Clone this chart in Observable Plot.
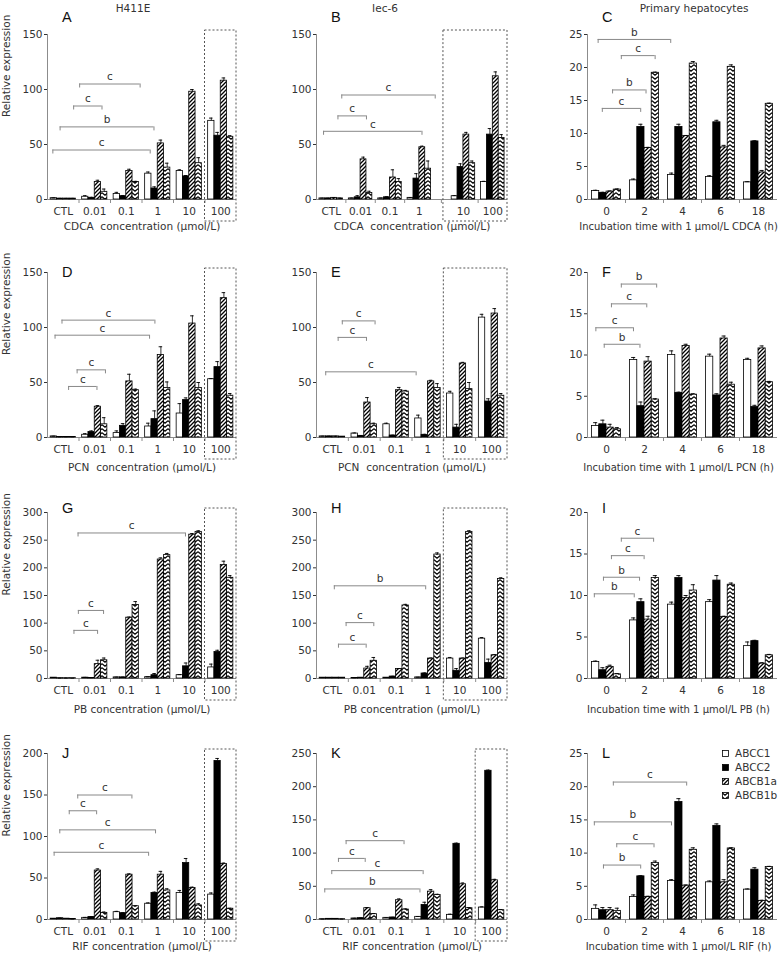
<!DOCTYPE html>
<html>
<head>
<meta charset="utf-8">
<script src="https://cdn.jsdelivr.net/npm/d3@7"></script>
<script src="https://cdn.jsdelivr.net/npm/@observablehq/plot@0.6"></script>
<style>
  body { margin: 0; background: #fff; }
  #fig { position: relative; width: 784px; height: 956px; font-family: "DejaVu Sans", sans-serif; color: #333; }
  .panel { position: absolute; }
  .title { position: absolute; font-size: 10.5px; transform: translate(-50%, -50%); white-space: nowrap; }
  .letter { position: absolute; font-family: "Liberation Sans", Arial, sans-serif; font-size: 14.5px; color: #111; line-height: 16px; }
  #legend { position: absolute; left: 722px; top: 746px; font-size: 10.5px; }
  #legend div { height: 14px; display: flex; align-items: center; }
  #legend svg { margin-right: 6px; }
</style>
</head>
<body>
<svg width="0" height="0" style="position:absolute">
  <defs>
    <pattern id="hatchA" patternUnits="userSpaceOnUse" width="4" height="4">
      <rect width="4" height="4" fill="#fff"/>
      <path d="M-1,1 l2,-2 M0,4 l4,-4 M3,5 l2,-2" stroke="#000" stroke-width="1.3"/>
    </pattern>
    <pattern id="hatchB" patternUnits="userSpaceOnUse" width="6" height="4">
      <rect width="6" height="4" fill="#fff"/>
      <path d="M0,0.6 L3,3.2 L6,0.6" fill="none" stroke="#000" stroke-width="1.2"/>
    </pattern>
  </defs>
</svg>
<div id="fig"></div>
<script>
// ---------------- data ----------------
const series = ["ABCC1", "ABCC2", "ABCB1a", "ABCB1b"];
const concentrations = ["CTL", "0.01", "0.1", "1", "10", "100"];
const hours = ["0", "2", "4", "6", "18"];

// each row: one group, values for [ABCC1, ABCC2, ABCB1a, ABCB1b]
const valuesA = [[1.2,0.8,0.8,0.8],[2.5,1.5,16,7],[5,3,26,16],[23.5,10,51,29],[26,21,98,33],[71.5,58,108,57]];
const errorsA = [[0.3,0.2,0.2,0.2],[1,0.5,1.5,2.5],[1.5,0.5,1.5,0.5],[1.5,1.5,3,4],[1,0.8,2,5],[2.5,3,2.5,1]];
const bracketsA = [{from:1.02,to:2.94,y:105,sig:"c"},{from:0.83,to:1.73,y:85,sig:"c"},{from:0.40,to:3.38,y:66,sig:"b"},{from:0.17,to:3.26,y:45,sig:"c"}];

const valuesB = [[1,1,1.5,1],[1,2,36.5,6],[1,2,20,16],[1.5,19,47.5,28],[3,29.5,59,33],[16,59,112,56]];
const errorsB = [[0.2,0.2,0.3,0.2],[0.3,1.5,2,1.5],[0.3,0.5,7,3],[0.3,4.5,1,7],[0.5,3,2,2],[0.5,5.5,4,3]];
const bracketsB = [{from:0.86,to:4.04,y:95,sig:"c"},{from:0.73,to:1.70,y:76,sig:"c"},{from:0.24,to:3.59,y:62,sig:"c"}];

const valuesC = [[1.3,1.0,1.2,1.5],[2.9,11,7.8,19.2],[3.7,11,9.6,20.6],[3.4,11.7,7.9,20.1],[2.6,8.8,4.1,14.5]];
const errorsC = [[0.1,0.1,0.1,0.1],[0.2,0.4,0.1,0.1],[0.3,0.4,0.1,0.3],[0.2,0.3,0.3,0.3],[0.1,0.1,0.3,0.1]];
const bracketsC = [{from:0.28,to:2.19,y:24.25,sig:"b"},{from:0.89,to:1.78,y:21.8,sig:"c"},{from:0.66,to:1.54,y:16.6,sig:"b"},{from:0.39,to:1.40,y:13.8,sig:"c"}];

const valuesD = [[1,0.5,0.5,0.5],[2.5,5,28,12],[4,10.6,51,43],[10,16.7,75,45],[21.8,34,103.6,45],[53,64,126.7,38]];
const errorsD = [[0.2,0.1,0.1,0.1],[1,1,1,6],[2,2,6.5,1],[3,7.5,7.5,5.5],[9,2,7,5],[0.5,5,5,2]];
const bracketsD = [{from:0.46,to:3.41,y:106.7,sig:"c"},{from:0.24,to:3.24,y:93,sig:"c"},{from:0.94,to:1.84,y:61.5,sig:"c"},{from:0.67,to:1.57,y:46.4,sig:"c"}];

const valuesE = [[1,1,1,0.8],[3.6,1.5,31.8,12],[12,1.8,43,41.8],[17.3,2.4,51,45],[40,9,67.3,44],[109,32.7,112.7,38]];
const errorsE = [[0.2,0.2,0.2,0.1],[0.5,0.3,4.5,1],[1,0.3,2.5,1],[3,0.5,1,4],[2,3,1,6],[3,2.5,4.5,2]];
const bracketsE = [{from:0.81,to:1.84,y:106,sig:"c"},{from:0.68,to:1.57,y:91,sig:"c"},{from:0.29,to:3.13,y:59.7,sig:"c"}];

const valuesF = [[1.4,1.6,1.2,1.0],[9.4,3.8,9.2,4.6],[10,5.4,11.1,5.2],[9.8,5.1,12,6.4],[9.4,3.7,10.8,6.7]];
const errorsF = [[0.4,0.5,0.4,0.2],[0.3,0.5,0.6,0.1],[0.5,0.1,0.2,0.1],[0.3,0.2,0.3,0.3],[0.2,0.2,0.3,0.1]];
const bracketsF = [{from:0.89,to:1.82,y:18.6,sig:"b"},{from:0.63,to:1.56,y:16.2,sig:"c"},{from:0.22,to:1.21,y:13.3,sig:"c"},{from:0.44,to:1.38,y:11.3,sig:"b"}];

const valuesG = [[1.5,0.5,0.5,0.5],[1.5,1,26,33],[2,2,110,133],[2.5,6,215,223],[6,22,260,265],[20,48,205,182]];
const errorsG = [[0.3,0.2,0.2,0.2],[0.5,0.3,7,4],[0.5,0.5,1,6],[0.5,3,3,3],[1,6,2,2],[6,3,7,4]];
const bracketsG = [{from:0.97,to:4.38,y:263,sig:"c"},{from:0.98,to:1.78,y:123,sig:"c"},{from:0.84,to:1.59,y:87,sig:"c"}];

const valuesH = [[1.5,1.5,1.5,1.5],[1,1.5,18,32],[1.5,3.5,17,132],[2,9,36,224],[36,14,36,265],[72,28,42,180]];
const errorsH = [[0.2,0.2,0.2,0.2],[0.3,0.3,4,6],[0.3,0.5,1,2],[0.3,1,1,3],[2,4,1,2],[2,7,1,2]];
const bracketsH = [{from:0.56,to:3.43,y:167.5,sig:"b"},{from:0.93,to:1.80,y:101,sig:"c"},{from:0.69,to:1.56,y:62,sig:"c"}];

const valuesI = [[2.0,1.0,1.4,0.5],[7.0,9.2,7.1,12.1],[8.9,12.1,9.7,10.6],[9.2,11.8,7.4,11.3],[3.9,4.5,1.8,2.8]];
const errorsI = [[0.1,0.3,0.2,0.1],[0.3,0.4,0.4,0.3],[0.3,0.3,0.3,0.7],[0.3,0.6,0.1,0.2],[0.5,0.1,0.1,0.1]];
const bracketsI = [{from:0.89,to:1.74,y:16.9,sig:"c"},{from:0.63,to:1.49,y:14.8,sig:"c"},{from:0.42,to:1.37,y:12.2,sig:"b"},{from:0.18,to:1.23,y:10.2,sig:"b"}];

const valuesJ = [[1,1.5,1,0.5],[2,3,59,8],[8.8,7.6,54,16],[19,32,54,35],[32,68,38,17],[30,191,67,13]];
const errorsJ = [[0.2,0.2,0.2,0.1],[0.5,0.5,2,1],[1,0.5,1,0.5],[1,1,4,2],[3,5.5,1,2],[2,3,1,0.5]];
const bracketsJ = [{from:0.96,to:2.68,y:150,sig:"c"},{from:0.69,to:1.56,y:131,sig:"c"},{from:0.39,to:3.43,y:108,sig:"c"},{from:0.21,to:3.21,y:81,sig:"c"}];

const valuesK = [[0.5,1,1,0.5],[1.5,2,17,8],[2.5,3,29,15],[4,22,42,37],[7,114,53,17],[18,224,59,14]];
const errorsK = [[0.2,0.2,0.2,0.1],[0.3,0.3,1,1],[0.3,0.3,2,1],[0.5,4,3,1],[1,1,2,1],[1,1,1.5,1]];
const bracketsK = [{from:0.93,to:2.75,y:118.7,sig:"c"},{from:0.69,to:1.53,y:92,sig:"c"},{from:0.48,to:3.35,y:73.6,sig:"c"},{from:0.26,to:3.25,y:46,sig:"b"}];

const valuesL = [[1.6,1.4,1.4,1.3],[3.4,6.5,3.4,8.5],[5.8,17.7,5.1,10.5],[5.6,14.1,5.6,10.7],[4.5,7.5,2.8,7.9]];
const errorsL = [[0.6,0.4,0.4,0.4],[0.3,0.1,0.1,0.3],[0.2,0.5,0.1,0.3],[0.2,0.3,0.4,0.1],[0.1,0.3,0.1,0.1]];
const bracketsL = [{from:0.68,to:2.61,y:20.7,sig:"c"},{from:0.18,to:2.21,y:14.7,sig:"b"},{from:0.77,to:1.75,y:11.4,sig:"c"},{from:0.42,to:1.40,y:8.2,sig:"b"}];

const columnTitles = ["H411E", "Iec-6", "Primary hepatocytes"];

// ---------------- layout ----------------
const cols = [
  {left: 0, width: 260, ml: 47, mr: 24, titleX: 133, letterX: 62, labelDx: 0, labelSize: 10.5},
  {left: 260, width: 260, ml: 56, mr: 13, titleX: 385, letterX: 331, labelDx: 0, labelSize: 10.5},
  {left: 520, width: 264, ml: 67, mr: 7, titleX: 694, letterX: 602, labelDx: -4, labelSize: 10}
];
const rows = [
  {top: 0, height: 240, mt: 34, mb: 41, titleDy: 30, letterY: 17},
  {top: 240, height: 235, mt: 32, mb: 38, titleDy: 33, letterY: 272},
  {top: 475, height: 240, mt: 37, mb: 37, titleDy: 34, letterY: 508},
  {top: 715, height: 241, mt: 38, mb: 37, titleDy: 30, letterY: 753}
];
const conc = u => `${u}\u00a0 concentration (μmol/L)`;
const incub = u => `Incubation time with 1 μmol/L ${u} (h)`;
const panels = [
  {letter:"A", col:0,row:0, values:valuesA, errors:errorsA, brackets:bracketsA, groups:concentrations, yMax:150, yStep:50, box:{from:5,to:5}, xLabel:conc("CDCA")},
  {letter:"B", col:1,row:0, values:valuesB, errors:errorsB, brackets:bracketsB, groups:concentrations, yMax:150, yStep:50, box:{from:4,to:5,padLeft:0.18}, gapAt:4, gap:0.5, xLabel:conc("CDCA")},
  {letter:"C", col:2,row:0, values:valuesC, errors:errorsC, brackets:bracketsC, groups:hours, yMax:25, yStep:5, xLabel:incub("CDCA")},
  {letter:"D", col:0,row:1, values:valuesD, errors:errorsD, brackets:bracketsD, groups:concentrations, yMax:150, yStep:50, box:{from:5,to:5}, xLabel:conc("PCN")},
  {letter:"E", col:1,row:1, values:valuesE, errors:errorsE, brackets:bracketsE, groups:concentrations, yMax:150, yStep:50, box:{from:4,to:5}, xLabel:conc("PCN")},
  {letter:"F", col:2,row:1, values:valuesF, errors:errorsF, brackets:bracketsF, groups:hours, yMax:20, yStep:5, xLabel:incub("PCN")},
  {letter:"G", col:0,row:2, values:valuesG, errors:errorsG, brackets:bracketsG, groups:concentrations, yMax:300, yStep:50, box:{from:5,to:5}, xLabel:"PB concentration (μmol/L)"},
  {letter:"H", col:1,row:2, values:valuesH, errors:errorsH, brackets:bracketsH, groups:concentrations, yMax:300, yStep:50, box:{from:4,to:5}, xLabel:"PB concentration (μmol/L)"},
  {letter:"I", col:2,row:2, values:valuesI, errors:errorsI, brackets:bracketsI, groups:hours, yMax:20, yStep:5, xLabel:incub("PB")},
  {letter:"J", col:0,row:3, values:valuesJ, errors:errorsJ, brackets:bracketsJ, groups:concentrations, yMax:200, yStep:50, box:{from:5,to:5}, xLabel:"RIF concentration (μmol/L)"},
  {letter:"K", col:1,row:3, values:valuesK, errors:errorsK, brackets:bracketsK, groups:concentrations, yMax:250, yStep:50, box:{from:5,to:5}, xLabel:"RIF concentration (μmol/L)"},
  {letter:"L", col:2,row:3, values:valuesL, errors:errorsL, brackets:bracketsL, groups:hours, yMax:25, yStep:5, xLabel:incub("RIF")}
];

const fills = ["#ffffff", "#000000", "url(#hatchA)", "url(#hatchB)"];
const axisGray = "#8c8c8c";

function drawPanel(p) {
  const c = cols[p.col], r = rows[p.row];
  const n = p.groups.length;
  const gapAt = p.gapAt ?? n, gap = p.gap ?? 0;
  const pos = i => i + (i >= gapAt ? gap : 0);
  const xMax = pos(n - 1) + 1;
  const unit = p.yMax / (r.height - r.mt - r.mb); // data units per pixel
  const bs = p.col === 2 ? 0.12 : 0.1, bw = p.col === 2 ? 0.19 : 0.2;
  const bars = p.groups.flatMap((g, gi) => series.map((s, si) => {
    const x1 = pos(gi) + bs + si * bw;
    return {si, x1, x2: x1 + bw, xc: x1 + bw / 2, v: p.values[gi][si], e: p.errors[gi][si]};
  }));
  const bounds = d3.range(1, n).map(i => (pos(i - 1) + 1 + pos(i)) / 2);
  const marks = [
    Plot.ruleY([0], {stroke: axisGray}),
    Plot.ruleX([0], {stroke: axisGray}),
    Plot.ruleX(bounds, {x: d => d, y1: () => 0, y2: () => -4 * unit, stroke: axisGray}),
    Plot.rect(bars, {x1: "x1", x2: "x2", y1: () => 0, y2: "v", fill: d => fills[d.si], stroke: "#000", strokeWidth: 0.8}),
    Plot.ruleX(bars, {x: "xc", y1: "v", y2: d => d.v + d.e, stroke: "#000", strokeWidth: 0.8}),
    Plot.ruleY(bars, {y: d => d.v + d.e, x1: d => d.xc - bw * 0.28, x2: d => d.xc + bw * 0.28, stroke: "#000", strokeWidth: 0.9}),
    Plot.ruleY(p.brackets, {y: "y", x1: "from", x2: "to", stroke: "#888"}),
    Plot.ruleX(p.brackets, {x: "from", y1: "y", y2: d => d.y - 4 * unit, stroke: "#888"}),
    Plot.ruleX(p.brackets, {x: "to", y1: "y", y2: d => d.y - 4 * unit, stroke: "#888"}),
    Plot.text(p.brackets, {x: d => (d.from + d.to) / 2, y: "y", dy: -7, text: "sig", fill: "#333"}),
    Plot.text(p.groups, {x: (d, i) => pos(i) + 0.5, y: () => 0, dy: 12, text: d => d, fill: "#333"}),
    Plot.text([p.xLabel], {frameAnchor: "bottom", dy: r.titleDy, dx: c.labelDx, fontSize: c.labelSize, text: d => d, fill: "#333"})
  ];
  if (p.box) marks.push(Plot.rect([p.box], {
    x1: d => pos(d.from) - (d.padLeft || 0), x2: d => pos(d.to) + 1,
    y1: () => -22 * unit, y2: () => p.yMax + 4 * unit,
    fill: "none", stroke: "#555", strokeWidth: 1, strokeDasharray: "2,2"
  }));
  if (p.col === 0) marks.push(Plot.text(["Relative expression"], {frameAnchor: "left", dx: -41, rotate: -90, text: d => d, fill: "#333"}));
  return Plot.plot({
    width: c.width, height: r.height,
    marginLeft: c.ml, marginRight: c.mr, marginTop: r.mt, marginBottom: r.mb,
    x: {domain: [0, xMax], axis: null},
    y: {domain: [0, p.yMax], ticks: d3.range(0, p.yMax + 1e-9, p.yStep), tickSize: 3, tickPadding: 2, label: null},
    color: {type: "identity"},
    style: {fontFamily: "DejaVu Sans", fontSize: "10.5px", color: "#333", background: "transparent", overflow: "visible"},
    marks
  });
}

const fig = document.getElementById("fig");
for (const p of panels) {
  const c = cols[p.col], r = rows[p.row];
  const div = document.createElement("div");
  div.className = "panel";
  div.style.left = c.left + "px";
  div.style.top = r.top + "px";
  div.appendChild(drawPanel(p));
  fig.appendChild(div);
  const L = document.createElement("div");
  L.className = "letter";
  L.textContent = p.letter;
  L.style.left = c.letterX + "px";
  L.style.top = (r.letterY - 8) + "px";
  fig.appendChild(L);
}
columnTitles.forEach((t, i) => {
  const d = document.createElement("div");
  d.className = "title";
  d.textContent = t;
  d.style.left = cols[i].titleX + "px";
  d.style.top = "8px";
  fig.appendChild(d);
});
const legend = document.createElement("div");
legend.id = "legend";
series.forEach((s, i) => {
  const row = document.createElement("div");
  row.innerHTML = `<svg width="7" height="7"><rect x="0.5" y="0.5" width="6" height="6" fill="${fills[i]}" stroke="#000" stroke-width="0.8"/></svg><span>${s}</span>`;
  legend.appendChild(row);
});
fig.appendChild(legend);
</script>
</body>
</html>
